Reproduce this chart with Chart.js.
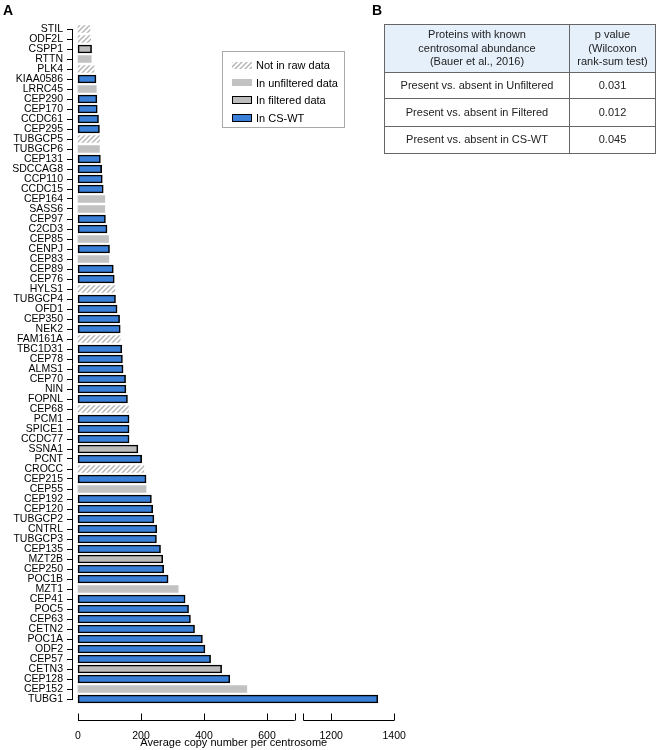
<!DOCTYPE html>
<html>
<head>
<meta charset="utf-8">
<script src="https://cdn.jsdelivr.net/npm/chart.js@4.4.0/dist/chart.umd.min.js"></script>
<style>
body { margin: 0; background: #fff; font-family: "Liberation Sans", Arial, sans-serif; }
#wrap { position: relative; width: 656px; height: 750px; overflow: hidden; }
#chart { position: absolute; left: 0; top: 0; }
.panel { position: absolute; top: 2px; font-weight: bold; font-size: 14px; }
#legend { position: absolute; left: 222px; top: 51px; width: 121px; height: 75px; border: 1px solid #aaa; }
.item { position: absolute; left: 0; width: 120px; height: 14px; font-size: 11px; line-height: 14px; }
.sw { position: absolute; left: 9px; width: 20px; box-sizing: border-box; }
.item span { position: absolute; left: 33px; white-space: nowrap; }
table { position: absolute; left: 384px; top: 24px; width: 272px; border-collapse: collapse; font-size: 11px; color: #222; }
td { border: 1px solid #666; text-align: center; padding: 0; line-height: 13.5px; }
tr.head td { background: #e6f0fb; height: 47px; }
</style>
</head>
<body>
<div id="wrap">
  <canvas id="chart" width="656" height="750"></canvas>
  <div class="panel" style="left:3px">A</div>
  <div class="panel" style="left:372px">B</div>
  <div id="legend"></div>
  <table>
    <tr class="head"><td style="width:184px">Proteins with known<br>centrosomal abundance<br>(Bauer et al., 2016)</td><td>p value<br>(Wilcoxon<br>rank-sum test)</td></tr>
    <tr style="height:26px"><td>Present vs. absent in Unfiltered</td><td>0.031</td></tr>
    <tr style="height:28px"><td>Present vs. absent in Filtered</td><td>0.012</td></tr>
    <tr style="height:27px"><td>Present vs. absent in CS-WT</td><td>0.045</td></tr>
  </table>
</div>
<script>
// data (top to bottom)
var categories = ["STIL","ODF2L","CSPP1","RTTN","PLK4","KIAA0586","LRRC45","CEP290","CEP170","CCDC61",
  "CEP295","TUBGCP5","TUBGCP6","CEP131","SDCCAG8","CCP110","CCDC15","CEP164","SASS6","CEP97",
  "C2CD3","CEP85","CENPJ","CEP83","CEP89","CEP76","HYLS1","TUBGCP4","OFD1","CEP350",
  "NEK2","FAM161A","TBC1D31","CEP78","ALMS1","CEP70","NIN","FOPNL","CEP68","PCM1",
  "SPICE1","CCDC77","SSNA1","PCNT","CROCC","CEP215","CEP55","CEP192","CEP120","TUBGCP2",
  "CNTRL","TUBGCP3","CEP135","MZT2B","CEP250","POC1B","MZT1","CEP41","POC5","CEP63",
  "CETN2","POC1A","ODF2","CEP57","CETN3","CEP128","CEP152","TUBG1"];
var copyNumbers = [38,40,43,42,51,57,58,60,61,65,
  68,68,68,71,75,77,80,85,85,87,
  92,97,100,98,112,115,117,119,124,132,
  134,134,139,141,143,151,152,157,160,162,
  162,162,190,202,209,216,216,233,237,241,
  250,249,262,269,272,286,318,340,351,357,
  370,395,403,421,456,482,536,1348];
// N = not in raw data, U = in unfiltered, F = in filtered, W = in CS-WT
var dataStatus = ["N","N","F","U","N","W","U","W","W","W",
  "W","N","U","W","W","W","W","U","U","W",
  "W","U","W","U","W","W","N","W","W","W",
  "W","N","W","W","W","W","W","W","N","W",
  "W","W","F","W","N","W","U","W","W","W",
  "W","W","W","F","W","W","U","W","W","W",
  "W","W","W","W","F","W","U","W"];
var statusCodes = ["N","U","F","W"];
var statusLabels = ["Not in raw data","In unfiltered data","In filtered data","In CS-WT"];
var xTickValues = [0,200,400,600,1200,1400];
var xTickLabels = ["0","200","400","600","1200","1400"];

// broken x axis
var BREAK_LO = 688, BREAK_HI = 1112, AXIS_SHIFT = 396;
function toDisplay(v) { return v > BREAK_LO ? v - AXIS_SHIFT : v; }

// hatch pattern
var pc = document.createElement('canvas');
pc.width = 5; pc.height = 5;
var pctx = pc.getContext('2d');
pctx.fillStyle = '#fff'; pctx.fillRect(0, 0, 5, 5);
pctx.strokeStyle = '#b4b4b4'; pctx.lineWidth = 1.4;
pctx.beginPath();
pctx.moveTo(-1, 6); pctx.lineTo(6, -1);
pctx.moveTo(-1, 1); pctx.lineTo(1, -1);
pctx.moveTo(4, 6); pctx.lineTo(6, 4);
pctx.stroke();
var hatch = document.getElementById('chart').getContext('2d').createPattern(pc, 'repeat');

var styles = {
  N: { bg: hatch, border: 0, thick: 7 },
  U: { bg: '#c2c2c2', border: 0, thick: 7 },
  F: { bg: '#bdbdbd', border: 1.6, thick: 8 },
  W: { bg: '#3a80d8', border: 1.6, thick: 8 }
};

var datasets = statusCodes.map(function(code, k) {
  return {
    label: statusLabels[k],
    data: copyNumbers.map(function(v, i) { return dataStatus[i] === code ? toDisplay(v) : null; }),
    backgroundColor: styles[code].bg,
    borderColor: '#000',
    borderWidth: styles[code].border,
    borderSkipped: false,
    barThickness: styles[code].thick,
    grouped: false
  };
});

// legend
var legend = document.getElementById('legend');
statusCodes.forEach(function(code, k) {
  var item = document.createElement('div');
  item.className = 'item';
  item.style.top = (6 + k * 17.6) + 'px';
  var sw = document.createElement('div');
  sw.className = 'sw';
  var s = styles[code];
  sw.style.height = s.thick + 'px';
  sw.style.top = (7 - s.thick / 2) + 'px';
  if (code === 'N') sw.style.background = 'url(' + pc.toDataURL() + ')';
  else sw.style.background = s.bg;
  if (s.border) sw.style.border = s.border + 'px solid #000';
  var t = document.createElement('span');
  t.textContent = statusLabels[k];
  item.appendChild(sw); item.appendChild(t);
  legend.appendChild(item);
});

var axisLines = {
  id: 'axisLines',
  afterDraw: function(chart) {
    var ctx = chart.ctx, xs = chart.scales.x, ys = chart.scales.y, area = chart.chartArea;
    ctx.save();
    ctx.strokeStyle = '#000';
    ctx.lineWidth = 1;
    // y axis line between first and last category
    var lx = Math.round(area.left) - 0.5;
    ctx.beginPath();
    ctx.moveTo(lx, Math.round(ys.getPixelForValue(0)) + 0.5);
    ctx.lineTo(lx, Math.round(ys.getPixelForValue(categories.length - 1)) + 0.5);
    ctx.stroke();
    // x axis in two pieces
    var ay = Math.round(area.bottom + 16) + 0.5;
    [[0, BREAK_LO], [BREAK_HI, 1400]].forEach(function(seg) {
      ctx.beginPath();
      ctx.moveTo(xs.getPixelForValue(toDisplay(seg[0])), ay);
      ctx.lineTo(xs.getPixelForValue(toDisplay(seg[1])), ay);
      ctx.stroke();
    });
    xTickValues.concat([BREAK_LO, BREAK_HI]).forEach(function(v) {
      var px = Math.round(xs.getPixelForValue(toDisplay(v))) + 0.5;
      ctx.beginPath();
      ctx.moveTo(px, ay);
      ctx.lineTo(px, ay - 7);
      ctx.stroke();
    });
    ctx.restore();
  }
};

new Chart('chart', {
  type: 'bar',
  data: { labels: categories, datasets: datasets },
  options: {
    indexAxis: 'y',
    responsive: false,
    animation: false,
    layout: { padding: { top: 24, left: 0, right: 261.5, bottom: 0 } },
    plugins: { legend: { display: false }, tooltip: { enabled: false } },
    scales: {
      x: {
        type: 'linear', min: -16, max: 1005,
        grid: { display: false },
        border: { display: false },
        afterBuildTicks: function(s) { s.ticks = xTickValues.map(function(v) { return { value: toDisplay(v) }; }); },
        ticks: {
          padding: 18, maxRotation: 0, autoSkip: false, color: '#000',
          font: { family: '"Liberation Sans", Arial, sans-serif', size: 10.5 },
          callback: function(v, i) { return xTickLabels[i]; }
        },
        title: {
          display: true, text: 'Average copy number per centrosome', color: '#000',
          font: { family: '"Liberation Sans", Arial, sans-serif', size: 11 },
          padding: { top: 0, bottom: 0 }
        },
        afterFit: function(s) { s.height = 46; }
      },
      y: {
        type: 'category', offset: true,
        grid: { display: true, drawOnChartArea: false, drawTicks: true, tickLength: 6, color: '#000', offset: false },
        border: { display: false },
        ticks: {
          padding: 4, autoSkip: false, color: '#000',
          font: { family: '"Liberation Sans", Arial, sans-serif', size: 10.5 }
        },
        afterFit: function(s) { s.width = 73; }
      }
    }
  },
  plugins: [axisLines]
});
</script>
</body>
</html>
